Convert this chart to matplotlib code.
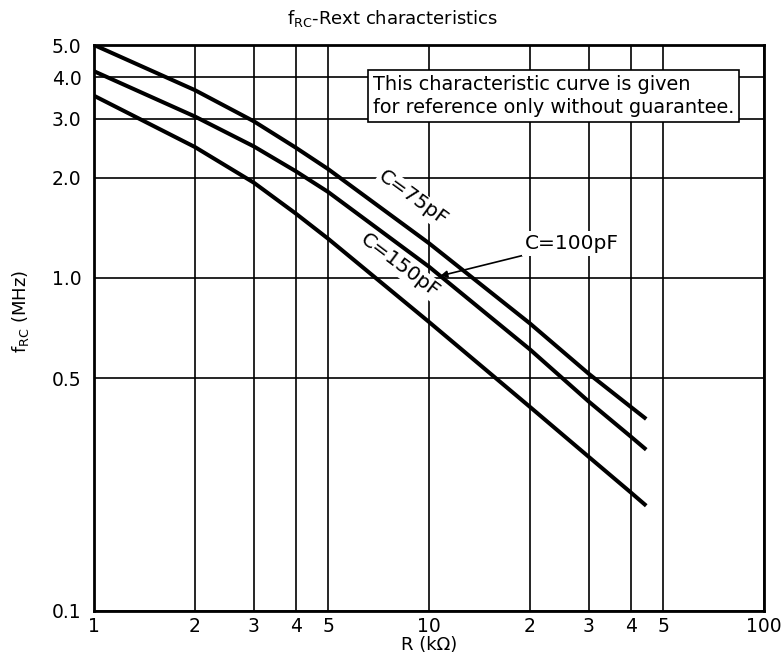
import numpy as np
import matplotlib
matplotlib.use("Agg")
import matplotlib.pyplot as plt

# valeurs (R en kOhm, f en MHz)
r_kohm = [1, 2, 3, 4, 5, 10, 20, 30, 40, 44.5]
f_75pF = [5.0, 3.66, 2.95, 2.46, 2.12, 1.27, 0.73, 0.515, 0.41, 0.377]
f_100pF = [4.17, 3.05, 2.48, 2.09, 1.81, 1.08, 0.61, 0.425, 0.334, 0.305]
f_150pF = [3.52, 2.47, 1.93, 1.56, 1.31, 0.737, 0.41, 0.29, 0.227, 0.207]

x_ticks = [1, 2, 3, 4, 5, 10, 20, 30, 40, 50, 100]
x_labels = ['1', '2', '3', '4', '5', '10', '2', '3', '4', '5', '100']
y_ticks = [0.1, 0.5, 1, 2, 3, 4, 5]
y_labels = ['0.1', '0.5', '1.0', '2.0', '3.0', '4.0', '5.0']

plt.rcParams['font.family'] = ['DejaVu Sans']

fig = plt.figure(figsize=(7.84, 6.56), dpi=100)
ax = fig.add_axes([0.12, 0.0686, 0.8545, 0.8628])

ax.set_xscale('log')
ax.set_yscale('log')
ax.set_xlim(1, 100)
ax.set_ylim(0.1, 5.0)

for serie in (f_75pF, f_100pF, f_150pF):
    ax.plot(r_kohm, serie, color='black', linewidth=2.9,
            solid_capstyle='butt', solid_joinstyle='round', zorder=4)

ax.set_xticks(x_ticks)
ax.set_xticklabels(x_labels)
ax.set_yticks(y_ticks)
ax.set_yticklabels(y_labels)
ax.minorticks_off()
ax.tick_params(axis='both', length=0, labelsize=13.5)
ax.tick_params(axis='x', pad=4)
ax.tick_params(axis='y', pad=9)
ax.grid(True, color='black', linewidth=1.2, zorder=1)
ax.set_axisbelow(True)
for s in ax.spines.values():
    s.set_linewidth(2.0)

ax.set_xlabel('R (k\u03a9)', fontsize=13, labelpad=0)
ax.set_ylabel(r'$\mathregular{f_{RC}}$ (MHz)', fontsize=13)
ax.yaxis.set_label_coords(-0.094, 0.53)

fig.text(0.501, 0.972, r'$\mathregular{f_{RC}}$-Rext characteristics',
         ha='center', va='center', fontsize=13)

# étiquettes des courbes
blanc = dict(facecolor='white', edgecolor='none', pad=1)
ax.text(8.96, 1.73, 'C=75pF', rotation=-36, ha='center', va='center',
        fontsize=14.5, bbox=blanc, zorder=3)
ax.text(8.2, 1.09, 'C=150pF', rotation=-37, ha='center', va='center',
        fontsize=14.5, bbox=blanc, zorder=3)

x_pt = 10.8
y_pt = 10 ** np.interp(np.log10(x_pt), np.log10(r_kohm), np.log10(f_100pF))
ax.annotate('C=100pF', xy=(x_pt, y_pt), xytext=(26.7, 1.27),
            ha='center', va='center', fontsize=14.5,
            bbox=dict(facecolor='white', edgecolor='none', pad=2),
            arrowprops=dict(arrowstyle='-|>', color='black', lw=1.2,
                            mutation_scale=10, shrinkA=0, shrinkB=0),
            zorder=5)

ax.text(0.416, 0.947,
        'This characteristic curve is given\nfor reference only without guarantee.',
        transform=ax.transAxes, ha='left', va='top', fontsize=13.9,
        linespacing=1.3,
        bbox=dict(boxstyle='square,pad=0.25', facecolor='white',
                  edgecolor='black', linewidth=1.2),
        zorder=5)

fig.savefig('out.png', dpi=100)
